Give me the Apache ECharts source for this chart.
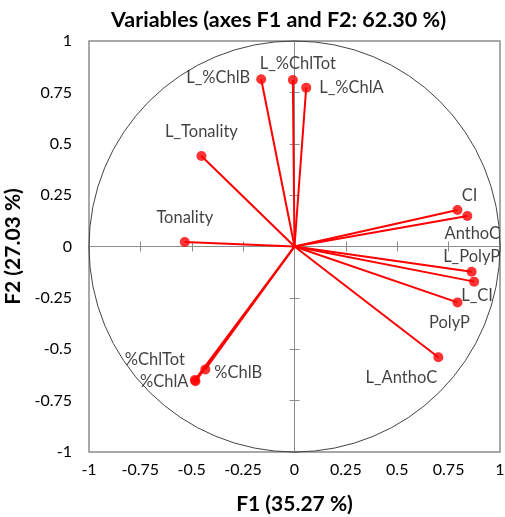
<!DOCTYPE html>
<html><head><meta charset="utf-8">
<script src="https://cdn.jsdelivr.net/npm/echarts@6/dist/echarts.min.js"></script>
<style>html,body{margin:0;padding:0;background:#fff}#c{width:505px;height:517px}</style>
</head><body><div id="c"></div>
<script>
// ---- data ----
const variables = ['L_%ChlB','L_%ChlTot','L_%ChlA','L_Tonality','Tonality','CI','AnthoC','L_PolyP','L_CI','PolyP','L_AnthoC','%ChlB','%ChlA','%ChlTot'];
const f1 = [-0.162,-0.008,0.057,-0.453,-0.534,0.793,0.841,0.862,0.874,0.793,0.700,-0.434,-0.482,-0.485];
const f2 = [0.814,0.810,0.773,0.440,0.022,0.178,0.148,-0.123,-0.171,-0.272,-0.539,-0.598,-0.656,-0.650];
const tickValues = [-1,-0.75,-0.5,-0.25,0,0.25,0.5,0.75,1];
const titleText = 'Variables (axes F1 and F2: 62.30 %)';
const xName = 'F1 (35.27 %)';
const yName = 'F2 (27.03 %)';

// ---- label placement (layout only) ----
const labelPlace = {
  'L_%ChlB':   {position:'left',  distance:6, offset:[0,-2]},
  'L_%ChlTot': {position:'top',   distance:3, offset:[5,0]},
  'L_%ChlA':   {position:'right', distance:8, offset:[0,0]},
  'L_Tonality':{position:'top',   distance:11, offset:[0,0]},
  'Tonality':  {position:'top',   distance:11, offset:[0,0]},
  'CI':        {position:'top',   distance:1, offset:[12,0]},
  'AnthoC':    {position:'bottom',distance:4, offset:[5,0]},
  'L_PolyP':   {position:'top',   distance:2, offset:[0,0]},
  'L_CI':      {position:'bottom',distance:1, offset:[3,0]},
  'PolyP':     {position:'bottom',distance:7, offset:[-8,0]},
  'L_AnthoC':  {position:'bottom',distance:7, offset:[-37,0]},
  '%ChlB':     {position:'right', distance:4, offset:[0,3]},
  '%ChlA':     {position:'left',  distance:2, offset:[0,0]},
  '%ChlTot':   {position:'left',  distance:2, offset:[-3,-20]}
};

const FONT = 'Lato';
const GRID = {left:89, top:41, width:411, height:411};
const axisGray = '#8c8c8c';

function baseAxis(extra){
  return Object.assign({
    type:'value', min:-1, max:1, interval:0.25, gridIndex:0,
    splitLine:{show:false}, axisLabel:{show:false}, axisTick:{show:false},
    axisLine:{show:false}
  }, extra);
}
function zeroAxis(pos, inside){
  return baseAxis({
    position:pos,
    axisLine:{show:true, onZero:true, onZeroAxisIndex:0, lineStyle:{color:axisGray, width:1}},
    axisTick:{show:true, inside:inside, length:5, lineStyle:{color:axisGray}}
  });
}

const xAxes = [
  baseAxis({
    position:'bottom',
    axisLabel:{show:true, margin:10, color:'#000', fontFamily:FONT, fontSize:16},
    name:xName, nameLocation:'middle', nameGap:42,
    nameTextStyle:{fontFamily:FONT, fontWeight:'bold', fontSize:21, color:'#000'}
  }),
  zeroAxis('bottom', false),
  zeroAxis('bottom', true)
];
const yAxes = [
  baseAxis({
    position:'left',
    axisLabel:{show:true, margin:17, color:'#000', fontFamily:FONT, fontSize:16},
    name:yName, nameLocation:'middle', nameGap:57,
    nameTextStyle:{fontFamily:FONT, fontWeight:'bold', fontSize:21, color:'#000'}
  }),
  zeroAxis('left', false),
  zeroAxis('left', true)
];

const vectorData = variables.map((v,i)=>({coords:[[0,0],[f1[i],f2[i]]]}));
const tipData = variables.map((v,i)=>{
  const p = labelPlace[v];
  return {
    name:v, value:[f1[i],f2[i]],
    label:{show:true, formatter:v, position:p.position, distance:p.distance, offset:p.offset}
  };
});

const chart = echarts.init(document.getElementById('c'), null, {renderer:'canvas'});
chart.setOption({
  animation:false,
  backgroundColor:'#fff',
  title:{text:titleText, left:106, top:4,
    textStyle:{fontFamily:FONT, fontWeight:'bold', fontSize:21.5, color:'#000'}},
  grid:Object.assign({show:true, borderColor:axisGray, borderWidth:1.5, backgroundColor:'transparent',
    containLabel:false, outerBoundsMode:'none'}, GRID),
  xAxis:xAxes,
  yAxis:yAxes,
  series:[
    {type:'lines', coordinateSystem:'cartesian2d', xAxisIndex:0, yAxisIndex:0,
     data:vectorData, lineStyle:{color:'#ff0000', width:2, opacity:1}, z:3, silent:true},
    {type:'scatter', xAxisIndex:0, yAxisIndex:0, data:tipData, symbol:'circle', symbolSize:10,
     itemStyle:{color:'#ff0000'}, z:4,
     label:{fontFamily:FONT, fontSize:16.5, color:'#111'}}
  ]
});

const c0 = chart.convertToPixel({gridIndex:0},[0,0]);
const c1 = chart.convertToPixel({gridIndex:0},[1,0]);
chart.setOption({graphic:[{type:'circle', z:1, silent:true,
  shape:{cx:c0[0], cy:c0[1], r:c1[0]-c0[0]},
  style:{fill:'none', stroke:'#444', lineWidth:1}}]});
</script></body></html>
